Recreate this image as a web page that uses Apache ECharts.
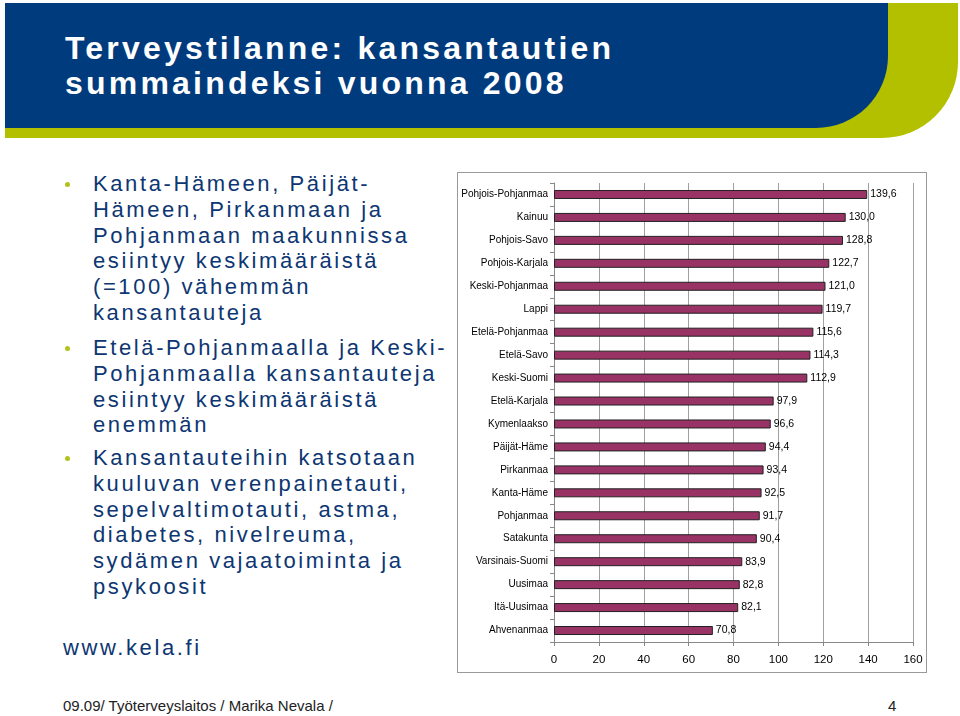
<!DOCTYPE html>
<html>
<head>
<meta charset="utf-8">
<script src="https://cdn.jsdelivr.net/npm/echarts@6/dist/echarts.min.js"></script>
<style>
  html, body { margin: 0; padding: 0; background: #fff; }
  body { width: 960px; height: 716px; position: relative; overflow: hidden; font-family: "Liberation Sans", Arial, sans-serif; }
  .title { position: absolute; left: 65px; top: 31px; color: #fff; font-weight: bold; font-size: 32px; line-height: 35px; letter-spacing: 3.2px; white-space: nowrap; }
  .para { position: absolute; left: 93px; color: #0d3672; font-size: 22px; line-height: 25.8px; letter-spacing: 2.6px; white-space: nowrap; }
  .dot { position: absolute; left: 65px; width: 5px; height: 5px; border-radius: 50%; background: #b3c21a; }
  .www { position: absolute; left: 63px; top: 635px; color: #0d3672; font-size: 22px; line-height: 26px; letter-spacing: 2.6px; }
  .foot { position: absolute; top: 697px; font-size: 15px; color: #222; line-height: 18px; }
  #chart { position: absolute; left: 457px; top: 172px; width: 470px; height: 501px; border: 1px solid #9a9a9a; box-sizing: border-box; }
</style>
</head>
<body>
<svg width="960" height="140" style="position:absolute;left:0;top:0">
  <path d="M5 3 H958 V62 A76 76 0 0 1 882 138 H5 Z" fill="#b3c000"/>
  <path d="M5 3 H888 V56 A72 72 0 0 1 816 128 H5 Z" fill="#003b7d"/>
</svg>
<div class="title">Terveystilanne: kansantautien<br>summaindeksi vuonna 2008</div>

<div class="dot" style="top:182px"></div>
<div class="para" style="top:171px">Kanta-Hämeen, Päijät-<br>Hämeen, Pirkanmaan ja<br>Pohjanmaan maakunnissa<br>esiintyy keskimääräistä<br>(=100) vähemmän<br>kansantauteja</div>
<div class="dot" style="top:346px"></div>
<div class="para" style="top:335px">Etelä-Pohjanmaalla ja Keski-<br>Pohjanmaalla kansantauteja<br>esiintyy keskimääräistä<br>enemmän</div>
<div class="dot" style="top:456px"></div>
<div class="para" style="top:445px">Kansantauteihin katsotaan<br>kuuluvan verenpainetauti,<br>sepelvaltimotauti, astma,<br>diabetes, nivelreuma,<br>sydämen vajaatoiminta ja<br>psykoosit</div>
<div class="www">www.kela.fi</div>

<div class="foot" style="left:63px">09.09/ Työterveyslaitos / Marika Nevala /</div>
<div class="foot" style="left:888px">4</div>

<div id="chart"></div>
<script>
const regions = ["Pohjois-Pohjanmaa","Kainuu","Pohjois-Savo","Pohjois-Karjala","Keski-Pohjanmaa","Lappi","Etelä-Pohjanmaa","Etelä-Savo","Keski-Suomi","Etelä-Karjala","Kymenlaakso","Päijät-Häme","Pirkanmaa","Kanta-Häme","Pohjanmaa","Satakunta","Varsinais-Suomi","Uusimaa","Itä-Uusimaa","Ahvenanmaa"];
const indexValues = [139.6,130.0,128.8,122.7,121.0,119.7,115.6,114.3,112.9,97.9,96.6,94.4,93.4,92.5,91.7,90.4,83.9,82.8,82.1,70.8];
const axisMin = 0, axisMax = 160, axisStep = 20;

const chart = echarts.init(document.getElementById('chart'), null, {renderer: 'canvas'});
chart.setOption({
  animation: false,
  grid: { left: 96, right: 13, top: 10, bottom: 30, containLabel: false },
  xAxis: {
    type: 'value', min: axisMin, max: axisMax, interval: axisStep,
    axisLine: { show: true, lineStyle: { color: '#888', width: 1 } },
    axisTick: { show: true, length: 4, lineStyle: { color: '#888' } },
    splitLine: { show: true, lineStyle: { color: '#a0a0a0', width: 1 } },
    axisLabel: { color: '#000', fontSize: 11.5, margin: 12, fontFamily: 'Liberation Sans' }
  },
  yAxis: {
    type: 'category', data: regions, inverse: true,
    axisLine: { show: true, lineStyle: { color: '#888', width: 1 } },
    axisTick: { show: true, length: 4, lineStyle: { color: '#888' } },
    axisLabel: { color: '#000', fontSize: 10, margin: 6, fontFamily: 'Liberation Sans' }
  },
  series: [{
    type: 'bar', data: indexValues, barWidth: 9,
    itemStyle: { color: '#993366', borderColor: '#222', borderWidth: 1 },
    label: { show: true, position: 'right', distance: 3, color: '#000', fontSize: 10.5, fontFamily: 'Liberation Sans',
      formatter: p => p.value.toFixed(1).replace('.', ',') }
  }]
});
</script>
</body>
</html>
